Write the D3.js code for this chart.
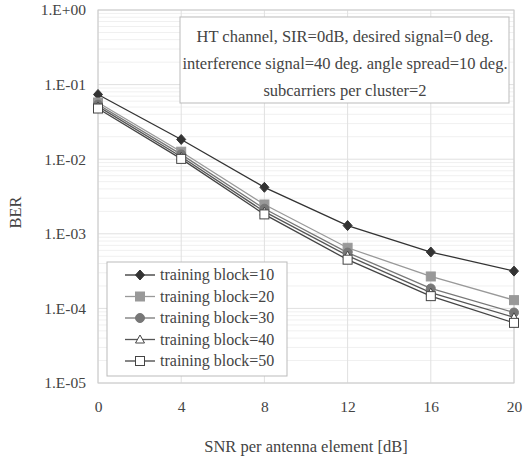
<!DOCTYPE html>
<html>
<head>
<meta charset="UTF-8">
<title>BER vs SNR</title>
<script src="https://d3js.org/d3.v7.min.js"></script>
<style>
body { margin: 0; background: #fff; }
</style>
</head>
<body>
<svg width="531" height="460" font-family="Liberation Serif"></svg>
<script>
var snr = [0, 4, 8, 12, 16, 20]
var xTicks = [0, 4, 8, 12, 16, 20]
var yTicks = [1, 1e-1, 1e-2, 1e-3, 1e-4, 1e-5]
var yTickLabels = ["1.E+00", "1.E-01", "1.E-02", "1.E-03", "1.E-04", "1.E-05"]

var names = ["training block=10", "training block=20", "training block=30",
             "training block=40", "training block=50"]
var ber10 = [0.0737, 0.0184, 0.0042, 0.00129, 0.00057, 0.000316]
var ber20 = [0.0575, 0.0126, 0.00247, 0.00065, 0.000268, 0.000129]
var ber30 = [0.054, 0.0116, 0.00217, 0.00056, 0.000185, 0.000088]
var ber40 = [0.051, 0.0108, 0.00198, 0.00051, 0.000163, 0.000076]
var ber50 = [0.0478, 0.0101, 0.00182, 0.00045, 0.000146, 0.000064]

var noteLines = ["HT channel, SIR=0dB, desired signal=0 deg.",
                 "interference signal=40 deg. angle spread=10 deg.",
                 "subcarriers per cluster=2"]

var series = [
  { name: names[0], values: ber10, line: "#333", marker: "diamond", fill: "#333", stroke: "#333" },
  { name: names[1], values: ber20, line: "#999", marker: "square", fill: "#999", stroke: "#999" },
  { name: names[2], values: ber30, line: "#777", marker: "circle", fill: "#777", stroke: "#777" },
  { name: names[3], values: ber40, line: "#555", marker: "triangle", fill: "#fff", stroke: "#444" },
  { name: names[4], values: ber50, line: "#444", marker: "square", fill: "#fff", stroke: "#444" }
]

var FONT = "Liberation Serif"
var TXT = "#444"

var svg = d3.select("svg")
var margin = { left: 98, right: 17, top: 10, bottom: 77 }
var width = 531 - margin.left - margin.right
var height = 460 - margin.top - margin.bottom

var x = d3.scaleLinear().domain([0, 20]).range([0, width])
var y = d3.scaleLog().domain([1e-5, 1]).range([height, 0])

var g = svg.append("g").attr("transform", "translate(" + margin.left + "," + margin.top + ")")

// minor log grid
var minor = []
for (var e = -5; e < 0; e++) {
  for (var m = 2; m < 10; m++) minor.push(m * Math.pow(10, e))
}
g.append("g")
  .selectAll("line").data(minor).enter().append("line")
  .attr("stroke", "#f0f0f0")
  .attr("x1", 0).attr("x2", width)
  .attr("y1", function(d) { return y(d) }).attr("y2", function(d) { return y(d) })

g.append("g")
  .selectAll("line").data(yTicks).enter().append("line")
  .attr("stroke", "#e0e0e0")
  .attr("x1", 0).attr("x2", width)
  .attr("y1", function(d) { return y(d) }).attr("y2", function(d) { return y(d) })

g.append("g")
  .selectAll("line").data(xTicks).enter().append("line")
  .attr("stroke", "#e0e0e0")
  .attr("y1", 0).attr("y2", height)
  .attr("x1", function(d) { return x(d) }).attr("x2", function(d) { return x(d) })

g.append("rect").attr("width", width).attr("height", height)
  .attr("fill", "none").attr("stroke", "#ccc")

// axes
var yAxis = g.append("g")
  .call(d3.axisLeft(y).tickValues(yTicks).tickSize(0).tickPadding(12)
    .tickFormat(function(d, i) { return yTickLabels[i] }))
  .attr("font-family", FONT).attr("font-size", 15.5)
yAxis.select(".domain").remove()
yAxis.selectAll("text").attr("fill", TXT).attr("font-family", FONT)

var xAxis = g.append("g").attr("transform", "translate(0," + height + ")")
  .call(d3.axisBottom(x).tickValues(xTicks).tickSize(0).tickPadding(18))
  .attr("font-family", FONT).attr("font-size", 15.5)
xAxis.select(".domain").remove()
xAxis.selectAll("text").attr("fill", TXT).attr("font-family", FONT)

svg.append("text").attr("x", margin.left + width / 2).attr("y", 452)
  .attr("text-anchor", "middle").attr("font-size", 16.5).attr("fill", TXT)
  .attr("font-family", FONT)
  .text("SNR per antenna element [dB]")

svg.append("text").attr("transform", "translate(21," + (margin.top + height / 2 + 16) + ") rotate(-90)")
  .attr("text-anchor", "middle").attr("font-size", 16.5).attr("fill", TXT)
  .attr("font-family", FONT).text("BER")

// marker drawing
function drawMarker(sel, s) {
  if (s.marker === "circle") {
    sel.append("circle").attr("r", 4.5)
  } else if (s.marker === "diamond") {
    sel.append("path").attr("d", "M0,-5L4.5,0L0,5L-4.5,0Z")
  } else if (s.marker === "triangle") {
    sel.append("path").attr("d", "M0,-4.5L4.5,3.5L-4.5,3.5Z")
  } else {
    sel.append("rect").attr("x", -4.5).attr("y", -4.5).attr("width", 9).attr("height", 9)
  }
  sel.selectAll("*").attr("fill", s.fill).attr("stroke", s.stroke).attr("stroke-width", 1)
}

var line = d3.line()
  .x(function(d, i) { return x(snr[i]) })
  .y(function(d) { return y(d) })

series.forEach(function(s) {
  g.append("path").datum(s.values)
    .attr("d", line).attr("fill", "none")
    .attr("stroke", s.line).attr("stroke-width", 1.3)
})
series.forEach(function(s) {
  s.values.forEach(function(v, i) {
    var mk = g.append("g").attr("transform", "translate(" + x(snr[i]) + "," + y(v) + ")")
    drawMarker(mk, s)
  })
})

// note box
var note = svg.append("g")
note.append("rect").attr("x", 180).attr("y", 17).attr("width", 329).attr("height", 86)
  .attr("fill", "#fff").attr("stroke", "#bbb")
noteLines.forEach(function(t, i) {
  note.append("text").attr("x", 345).attr("y", 42 + i * 27)
    .attr("text-anchor", "middle").attr("font-size", 16.5).attr("fill", TXT)
    .attr("font-family", FONT).text(t)
})

// legend
var legend = svg.append("g")
legend.append("rect").attr("x", 107).attr("y", 262).attr("width", 180).attr("height", 114)
  .attr("fill", "#fff").attr("stroke", "#bbb")
series.forEach(function(s, i) {
  var ly = 275 + i * 21.5
  legend.append("line").attr("x1", 125).attr("x2", 155).attr("y1", ly).attr("y2", ly)
    .attr("stroke", s.line).attr("stroke-width", 1.3)
  var mk = legend.append("g").attr("transform", "translate(140," + ly + ")")
  drawMarker(mk, s)
  legend.append("text").attr("x", 160).attr("y", ly + 5)
    .attr("font-size", 16).attr("fill", TXT).attr("font-family", FONT).text(s.name)
})
</script>
</body>
</html>
